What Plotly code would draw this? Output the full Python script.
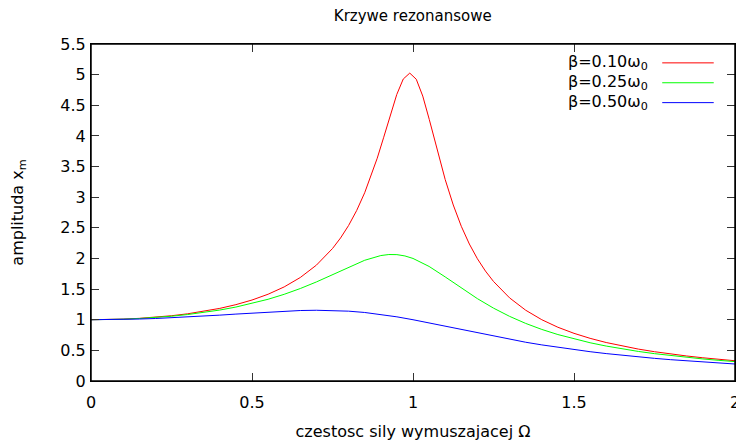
import plotly.graph_objects as go

# czestosc wymuszajaca (Omega / omega0)
omega = [0.0, 0.05, 0.1, 0.15, 0.2, 0.25, 0.3, 0.35, 0.4, 0.45, 0.5, 0.55, 0.6, 0.65, 0.7,
         0.75, 0.8, 0.85, 0.9, 0.95, 1.0, 1.05, 1.1, 1.15, 1.2, 1.25, 1.3, 1.35, 1.4, 1.45,
         1.5, 1.55, 1.6, 1.65, 1.7, 1.75, 1.8, 1.85, 1.9, 1.95, 2.0]

omega_green = [0.0, 0.05, 0.1, 0.15, 0.2, 0.25, 0.3, 0.35, 0.4, 0.45, 0.5, 0.55, 0.6, 0.65, 0.7,
               0.75, 0.8, 0.85, 0.9, 0.925, 0.95, 0.975, 1.0, 1.05, 1.1, 1.15, 1.2, 1.25, 1.3,
               1.35, 1.4, 1.45, 1.5, 1.55, 1.6, 1.65, 1.7, 1.75, 1.8, 1.85, 1.9, 1.95, 2.0]

# red curve is sampled more densely near the peak (as gnuplot did)
omega_red = [0.0, 0.05, 0.1, 0.15, 0.2, 0.25, 0.3, 0.35, 0.4, 0.45, 0.5, 0.55, 0.6, 0.65, 0.7,
             0.75, 0.775, 0.8, 0.825, 0.85, 0.875, 0.8889, 0.9091, 0.9293, 0.9495, 0.9697,
             0.9899, 1.0101, 1.0303, 1.0505, 1.0707, 1.0909, 1.1, 1.125, 1.15, 1.175, 1.2,
             1.225, 1.25, 1.3, 1.35, 1.4, 1.45, 1.5, 1.55, 1.6, 1.65, 1.7, 1.75, 1.8, 1.85,
             1.9, 1.95, 2.0]
amp_010 = [1.0, 1.0025, 1.0099, 1.0225, 1.0408, 1.0652, 1.0965, 1.1360, 1.1851, 1.2460, 1.3216,
           1.4162, 1.5357, 1.6893, 1.8908, 2.1622, 2.3343, 2.5384, 2.7818, 3.0728, 3.4188,
           3.6357, 3.9786, 4.3375, 4.6749, 4.9281, 5.0251, 4.9252, 4.6501, 4.2691, 3.8549,
           3.4558, 3.2880, 2.8727, 2.5245, 2.2355, 1.9952, 1.7942, 1.6245, 1.3562, 1.1552,
           1.0, 0.8772, 0.7779, 0.6962, 0.6279, 0.5702, 0.5207, 0.4780, 0.4408, 0.4081,
           0.3791, 0.3534, 0.3304]
amp_025 = [1.0, 1.0022, 1.0088, 1.0200, 1.0361, 1.0573, 1.0843, 1.1176, 1.1581, 1.2068, 1.2649,
           1.3338, 1.4148, 1.5091, 1.6167, 1.7355, 1.8582, 1.9702, 2.0472, 2.0640, 2.0623,
           2.0408, 2.0, 1.8695, 1.6986, 1.5168, 1.3440, 1.1893, 1.0549, 0.9398, 0.8417,
           0.7579, 0.6860, 0.6241, 0.5704, 0.5236, 0.4825, 0.4463, 0.4142, 0.3856, 0.3600,
           0.3370, 0.3162]
amp_050 = [1.0, 1.0013, 1.0050, 1.0112, 1.0198, 1.0307, 1.0436, 1.0585, 1.0748, 1.0921, 1.1094,
           1.1258, 1.1399, 1.1501, 1.1546, 1.1517, 1.1399, 1.1184, 1.0871, 1.0471, 1.0,
           0.9479, 0.8930, 0.8373, 0.7824, 0.7295, 0.6795, 0.6326, 0.5891, 0.5490, 0.5121,
           0.4784, 0.4475, 0.4192, 0.3934, 0.3697, 0.3480, 0.3281, 0.3098, 0.2929, 0.2774]

labels = ['β=0.10ω<sub>0</sub>', 'β=0.25ω<sub>0</sub>', 'β=0.50ω<sub>0</sub>']
colors = ['#ff0000', '#00ff00', '#0000ff']

fig = go.Figure()
for x, y, name, c in zip([omega_red, omega_green, omega], [amp_010, amp_025, amp_050], labels, colors):
    fig.add_trace(go.Scatter(x=x, y=y, mode='lines', name=name,
                             line=dict(color=c, width=1), showlegend=False))

# gnuplot-style key: text on the left, line sample on the right
for i, (name, c) in enumerate(zip(labels, colors)):
    yk = 0.944 - i * 0.059
    fig.add_annotation(x=0.868, y=yk, xref='paper', yref='paper', text=name,
                       showarrow=False, xanchor='right', yanchor='middle',
                       font=dict(size=16, color='black'))
    fig.add_shape(type='line', xref='paper', yref='paper', x0=0.887, x1=0.967,
                  y0=yk, y1=yk, line=dict(color=c, width=1))

# frame around the plot area
fig.add_shape(type='rect', xref='paper', yref='paper', x0=0, y0=0, x1=1, y1=1,
              line=dict(color='black', width=1.5), layer='above')

axis_style = dict(showline=True, linecolor='black', linewidth=1, mirror='allticks',
                  ticks='inside', ticklen=8, tickcolor='#333333', showgrid=False,
                  zeroline=False, tickfont=dict(size=16, color='black'))

fig.update_xaxes(range=[0, 2], dtick=0.5, ticklabelstandoff=7,
                 title=dict(text='czestosc sily wymuszajacej Ω',
                            font=dict(size=16, color='black'), standoff=14), **axis_style)
fig.update_yaxes(range=[0, 5.5], dtick=0.5, ticklabelstandoff=1,
                 title=dict(text='amplituda x<sub>m</sub>',
                            font=dict(size=16, color='black'), standoff=40), **axis_style)

# the page body adds an 8px offset, so margins are shifted to compensate
fig.update_layout(
    width=744, height=443,
    margin=dict(l=83, r=17, t=36, b=70, autoexpand=False),
    plot_bgcolor='white', paper_bgcolor='white',
    font=dict(family='DejaVu Sans', color='black'),
    title=dict(text='Krzywe rezonansowe', x=0.544, xanchor='center', y=0.982,
               yanchor='middle', font=dict(size=15, color='black')),
)

fig.write_html("out.html")
